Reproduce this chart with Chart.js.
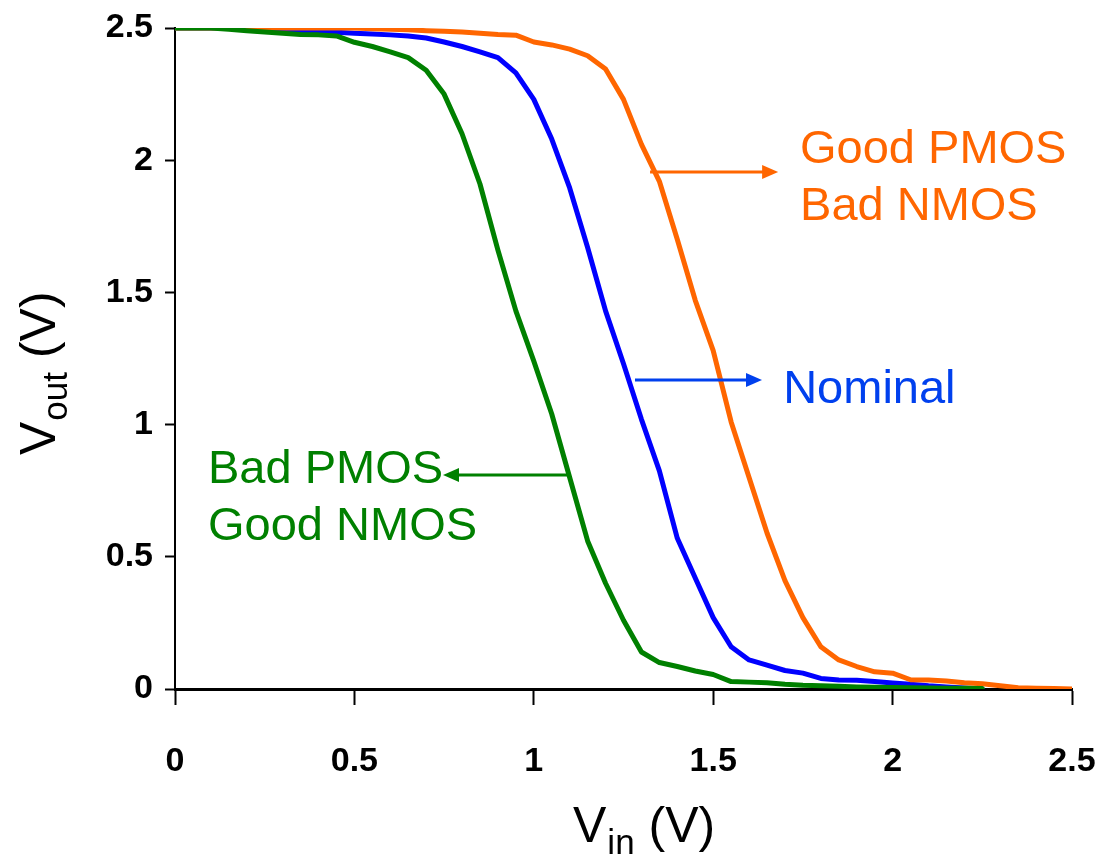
<html lang="en">
<head>
<meta charset="UTF-8">
<title>Inverter VTC corners</title>
<script src="https://cdn.jsdelivr.net/npm/chart.js"></script>
<style>
  body { margin: 0; background: #fff; }
  #wrap { width: 1096px; height: 856px; }
</style>
</head>
<body>
<div id="wrap"><canvas id="vtc" width="1096" height="856"></canvas></div>
<script>
// input voltage samples (V)
const vin = [0, 0.05, 0.1, 0.15, 0.2, 0.25, 0.3, 0.35, 0.4, 0.45, 0.5, 0.55, 0.6, 0.65, 0.7, 0.75, 0.8, 0.85, 0.9, 0.95,
             1.0, 1.05, 1.1, 1.15, 1.2, 1.25, 1.3, 1.35, 1.4, 1.45, 1.5, 1.55, 1.6, 1.65, 1.7, 1.75, 1.8, 1.85, 1.9, 1.95,
             2.0, 2.05, 2.1, 2.15, 2.2, 2.25, 2.3, 2.35, 2.4, 2.45, 2.5];

// output voltage (V)
const voutGoodPBadN = [2.5, 2.5, 2.5, 2.5, 2.5, 2.5, 2.5, 2.5, 2.5, 2.5, 2.5, 2.497, 2.495, 2.493, 2.49, 2.488, 2.485, 2.48, 2.475, 2.473,
                       2.447, 2.436, 2.42, 2.395, 2.345, 2.23, 2.06, 1.92, 1.70, 1.47, 1.28, 1.01, 0.80, 0.59, 0.41, 0.27, 0.16, 0.11, 0.085, 0.065,
                       0.06, 0.035, 0.034, 0.03, 0.024, 0.02, 0.012, 0.005, 0.003, 0.002, 0];
const voutNominal = [2.5, 2.5, 2.5, 2.5, 2.495, 2.493, 2.49, 2.488, 2.486, 2.484, 2.48, 2.477, 2.474, 2.47, 2.462, 2.447, 2.43, 2.41, 2.388, 2.33,
                     2.23, 2.08, 1.895, 1.67, 1.43, 1.23, 1.02, 0.825, 0.57, 0.42, 0.27, 0.16, 0.11, 0.09, 0.07, 0.06, 0.04, 0.034, 0.033, 0.028,
                     0.023, 0.018, 0.012, 0.008, 0.004, 0];
const voutBadPGoodN = [2.5, 2.5, 2.5, 2.495, 2.49, 2.485, 2.48, 2.475, 2.474, 2.47, 2.446, 2.43, 2.41, 2.388, 2.34, 2.25, 2.1, 1.91, 1.66, 1.43,
                       1.24, 1.04, 0.80, 0.56, 0.40, 0.26, 0.14, 0.10, 0.085, 0.068, 0.055, 0.028, 0.026, 0.024, 0.018, 0.014, 0.012, 0.01, 0.008, 0.007,
                       0.006, 0.005, 0.004, 0.003, 0.003, 0.002];

const xTicks = [0, 0.5, 1, 1.5, 2, 2.5];
const yTicks = [0, 0.5, 1, 1.5, 2, 2.5];

const ORANGE = '#FF6600', BLUE = '#0000FF', GREEN = '#008000';

function pts(ys) { return ys.map((y, i) => ({ x: vin[i], y: y })); }

// callouts, in data units
const callouts = [
  { color: ORANGE, y: 1.955, from: 1.324, to: 1.681, textX: 1.742, lines: [['Good PMOS', 1.989], ['Bad NMOS', 1.774]] },
  { color: '#0040EE', y: 1.169, from: 1.282, to: 1.636, textX: 1.695, lines: [['Nominal', 1.082]] },
  { color: GREEN, y: 0.809, from: 1.095, to: 0.747, textX: 0.092, lines: [['Bad PMOS', 0.779], ['Good NMOS', 0.564]] }
];

const SANS = '"Liberation Sans", Arial, sans-serif';

function subLabel(ctx, main, sub, tail, size) {
  ctx.font = size + 'px ' + SANS;
  ctx.fillText(main, 0, 0);
  let w = ctx.measureText(main).width + 1;
  ctx.font = Math.round(size * 0.7) + 'px ' + SANS;
  ctx.fillText(sub, w, 12);
  w += ctx.measureText(sub).width;
  ctx.font = size + 'px ' + SANS;
  ctx.fillText(tail, w, 0);
}

const extras = {
  id: 'extras',
  afterDatasetsDraw(chart) {
    const ctx = chart.ctx, xs = chart.scales.x, ys = chart.scales.y;
    ctx.save();
    callouts.forEach(c => {
      const y = ys.getPixelForValue(c.y);
      const x0 = xs.getPixelForValue(c.from), x1 = xs.getPixelForValue(c.to);
      const dir = x1 > x0 ? 1 : -1;
      ctx.strokeStyle = c.color; ctx.fillStyle = c.color; ctx.lineWidth = 3;
      ctx.beginPath(); ctx.moveTo(x0, y); ctx.lineTo(x1 - dir * 12, y); ctx.stroke();
      ctx.beginPath(); ctx.moveTo(x1, y); ctx.lineTo(x1 - dir * 16, y - 7); ctx.lineTo(x1 - dir * 16, y + 7); ctx.closePath(); ctx.fill();
      ctx.font = '47px ' + SANS;
      ctx.textAlign = 'left'; ctx.textBaseline = 'alphabetic';
      c.lines.forEach(([t, ty]) => ctx.fillText(t, xs.getPixelForValue(c.textX), ys.getPixelForValue(ty)));
    });
    // axis titles
    ctx.fillStyle = '#000';
    ctx.save(); ctx.translate(573, 842); subLabel(ctx, 'V', 'in', ' (V)', 50); ctx.restore();
    ctx.save(); ctx.translate(55, 455); ctx.rotate(-Math.PI / 2); subLabel(ctx, 'V', 'out', ' (V)', 50); ctx.restore();
    ctx.restore();
  }
};

const tickFont = { family: SANS, size: 34, weight: 'bold' };

new Chart(document.getElementById('vtc'), {
  type: 'line',
  data: {
    datasets: [
      { label: 'Bad PMOS / Good NMOS', data: pts(voutBadPGoodN), borderColor: GREEN },
      { label: 'Good PMOS / Bad NMOS', data: pts(voutGoodPBadN), borderColor: ORANGE },
      { label: 'Nominal', data: pts(voutNominal), borderColor: BLUE }
    ]
  },
  options: {
    responsive: false,
    animation: false,
    events: [],
    datasets: { line: { borderWidth: 5, pointRadius: 0, tension: 0, borderJoinStyle: 'round', borderCapStyle: 'round', fill: false } },
    layout: { padding: { top: 28, right: 24, left: 0, bottom: 0 } },
    plugins: { legend: { display: false }, tooltip: { enabled: false } },
    scales: {
      x: {
        type: 'linear', min: 0, max: 2.5,
        afterBuildTicks: s => { s.ticks = xTicks.map(v => ({ value: v })); },
        afterFit: s => { s.height = 167; s.paddingLeft = 0; s.paddingRight = 0; },
        grid: { drawOnChartArea: false, drawTicks: true, tickLength: 16, tickColor: '#000', tickWidth: 2 },
        border: { color: '#000', width: 3 },
        ticks: { color: '#000', padding: 36, maxRotation: 0, font: tickFont, callback: v => String(v) }
      },
      y: {
        min: 0, max: 2.5,
        afterBuildTicks: s => { s.ticks = yTicks.map(v => ({ value: v })); },
        afterFit: s => { s.width = 175; s.paddingTop = 0; s.paddingBottom = 0; },
        grid: { drawOnChartArea: false, drawTicks: true, tickLength: 10, tickColor: '#000', tickWidth: 2 },
        border: { color: '#000', width: 2 },
        ticks: { color: '#000', padding: 12, font: tickFont, callback: v => String(v) }
      }
    }
  },
  plugins: [extras]
});
</script>
</body>
</html>
